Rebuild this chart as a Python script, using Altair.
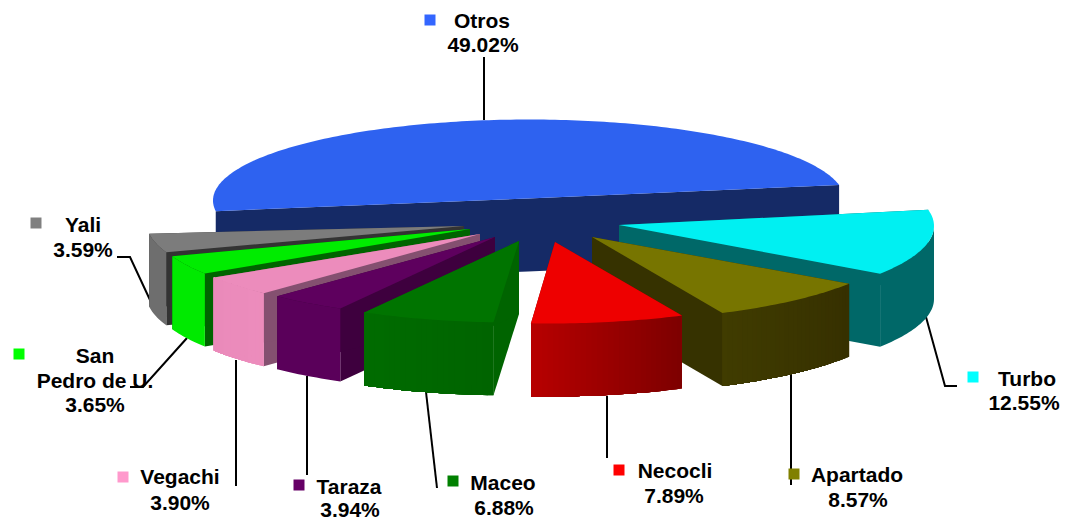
import math
import altair as alt
import pandas as pd

names = ["Otros", "Turbo", "Apartado", "Necocli", "Maceo", "Taraza", "Vegachi", "San Pedro de U.", "Yali"]
shares = [49.02, 12.55, 8.57, 7.89, 6.88, 3.94, 3.90, 3.65, 3.59]
pct_labels = ["49.02%", "12.55%", "8.57%", "7.89%", "6.88%", "3.94%", "3.90%", "3.65%", "3.59%"]
legend_colors = ["#3366FF", "#00FFFF", "#808000", "#FF0000", "#008000", "#660066", "#FF99CC", "#00FF00", "#808080"]
top_colors = ["#2E62F0", "#00F0F2", "#777500", "#EE0000", "#007400", "#5E005E", "#EC8CBC", "#00EC00", "#7C7C7C"]
cut_colors = ["#152A66", "#006868", "#363200", "#800000", "#006400", "#3E003E", "#845070", "#006400", "#333333"]
rim_start = ["#152A66", "#006868", "#363000", "#7E0000", "#006400", "#5A005A", "#EC8CBC", "#00EA00", "#6E6E6E"]
rim_end = ["#152A66", "#006868", "#403C00", "#B80000", "#006C00", "#5A005A", "#EA8ABA", "#00EA00", "#6E6E6E"]

# exploded geometry of each slice: rim centre, apex, semi-axes
rim_cx = [529, 621, 590, 549.5, 512, 488, 474.5, 465.5, 459.5]
rim_cy = [200.5, 226, 236, 238.5, 237.5, 233.5, 230.5, 226.5, 222.5]
apex_x = [528, 619, 592, 555, 519, 495, 480, 470, 464]
apex_y = [198.5, 225, 237, 242, 241, 237, 234, 229, 226]
semi_a = [316, 313, 313, 313, 313, 313, 313, 313, 313]
semi_b = [81, 85, 85, 85, 85, 85, 85, 85, 85]
DEPTH = 73
START_ANGLE = -11.05
draw_order = [0, 1, 2, 3, 8, 7, 6, 5, 4]

name_lines = [["Otros"], ["Turbo"], ["Apartado"], ["Necocli"], ["Maceo"], ["Taraza"], ["Vegachi"], ["San", "Pedro de U."], ["Yali"]]
name_x = [482, 1027, 857, 675, 503, 349, 180, 95, 83]
name_y = [22, 380, 476, 472, 484, 488, 478, 357, 226]
pct_x = [483, 1024, 858, 674, 504, 350, 180, 95, 83]
pct_y = [46, 404, 501, 497, 509, 511, 504, 406, 251]
square_x = [430, 973, 794, 619, 453, 299, 123, 19, 36]
square_y = [20, 377, 474, 470, 481, 485, 477, 354, 223]
leaders = [
    [(484, 57), (484, 120)],
    [(926, 317), (945, 386), (957, 386)],
    [(791, 373), (791, 485)],
    [(607, 396), (607, 458)],
    [(426, 392), (437, 488)],
    [(307, 376), (307, 475)],
    [(236, 360), (236, 486)],
    [(187, 338), (143, 387), (130, 387)],
    [(157, 315), (130, 257), (117, 257)],
]


def hex_mix(c0, c1, f):
    a = [int(c0[i:i + 2], 16) for i in (1, 3, 5)]
    b = [int(c1[i:i + 2], 16) for i in (1, 3, 5)]
    return "#%02X%02X%02X" % tuple(round(x + (y - x) * f) for x, y in zip(a, b))


features = []


def poly(points, color):
    ring = [list(p) for p in points] + [list(points[0])]
    features.append({"type": "Feature", "properties": {"c": color},
                     "geometry": {"type": "Polygon", "coordinates": [ring]}})


# angular extents, clockwise on screen: Turbo first, Otros last
order_from_start = [1, 2, 3, 4, 5, 6, 7, 8, 0]
spans = {}
angle = START_ANGLE
for i in order_from_start:
    spans[i] = (angle, angle + shares[i] * 3.6)
    angle += shares[i] * 3.6

for i in draw_order:
    t0, t1 = spans[i]
    cx, cy, a, b = rim_cx[i], rim_cy[i], semi_a[i], semi_b[i]
    ax, ay = apex_x[i], apex_y[i]

    def P(t):
        r = math.radians(t)
        return (cx + a * math.cos(r), cy + b * math.sin(r))

    n = max(2, int(t1 - t0))
    ts = [t0 + (t1 - t0) * k / n for k in range(n + 1)]
    rim = [P(t) for t in ts]
    p0, p1 = rim[0], rim[-1]
    if i == 0:
        # the big slice shows one flat cut running across the pie
        poly([p1, (ax, ay), p0, (p0[0], p0[1] + DEPTH), (ax, ay + DEPTH), (p1[0], p1[1] + DEPTH)], cut_colors[i])
    else:
        # far cut, near cut, then the part of the outer wall that faces the viewer
        for pt in (p0, p1):
            poly([(ax, ay), pt, (pt[0], pt[1] + DEPTH), (ax, ay + DEPTH)], cut_colors[i])
        front = [P(t) for t in ([max(t0, 0.0)] + [t for t in ts if t > max(t0, 0.0)])]
        m = len(front) - 1
        poly(front + [(q[0], q[1] + DEPTH) for q in reversed(front)], hex_mix(rim_start[i], rim_end[i], 0.5))
        if rim_start[i] != rim_end[i]:
            # shaded bands, painted over one another so that no seam shows
            for k in range(m):
                band = front[k:]
                poly(band + [(q[0], q[1] + DEPTH) for q in reversed(band)],
                     hex_mix(rim_start[i], rim_end[i], k / m))
    poly([(ax, ay)] + rim, top_colors[i])

W, H = 1052, 513
x_scale = alt.Scale(domain=[8, 8 + W], range=[0, W])
y_scale = alt.Scale(domain=[8, 8 + H], range=[0, H])

slices = alt.Chart(alt.Data(values=features, format=alt.DataFormat(type="json"))).mark_geoshape(
    strokeWidth=0
).encode(
    fill=alt.Fill("properties.c:N", scale=None),
).project(type="identity", scale=1, translate=[-8, -8])

line_rows = []
for i, pts in enumerate(leaders):
    for k, (x, y) in enumerate(pts):
        line_rows.append({"s": i, "k": k, "x": x, "y": y})
lines = alt.Chart(pd.DataFrame(line_rows)).mark_line(color="black", strokeWidth=2).encode(
    x=alt.X("x:Q", scale=x_scale, axis=None),
    y=alt.Y("y:Q", scale=y_scale, axis=None),
    detail="s:N",
    order="k:Q",
)

text_rows = []
for i in range(len(names)):
    for j, ln in enumerate(name_lines[i]):
        yy = name_y[i] + j * 25
        text_rows.append({"t": ln, "x": name_x[i], "y": yy})
    text_rows.append({"t": pct_labels[i], "x": pct_x[i], "y": pct_y[i]})
texts = alt.Chart(pd.DataFrame(text_rows)).mark_text(
    font="Liberation Sans", fontWeight="bold", fontSize=21, color="black", align="center", baseline="middle"
).encode(
    x=alt.X("x:Q", scale=x_scale, axis=None),
    y=alt.Y("y:Q", scale=y_scale, axis=None),
    text="t:N",
)

squares = alt.Chart(pd.DataFrame({"x": square_x, "y": square_y, "c": legend_colors})).mark_square(
    size=121, opacity=1
).encode(
    x=alt.X("x:Q", scale=x_scale, axis=None),
    y=alt.Y("y:Q", scale=y_scale, axis=None),
    fill=alt.Fill("c:N", scale=None),
)

chart = alt.layer(lines, slices, squares, texts).properties(
    width=W, height=H, padding=0, autosize=alt.AutoSizeParams(type="none"), background="white"
).configure_view(stroke=None)

chart.save("out.html", embed_options={"renderer": "svg", "actions": False})
